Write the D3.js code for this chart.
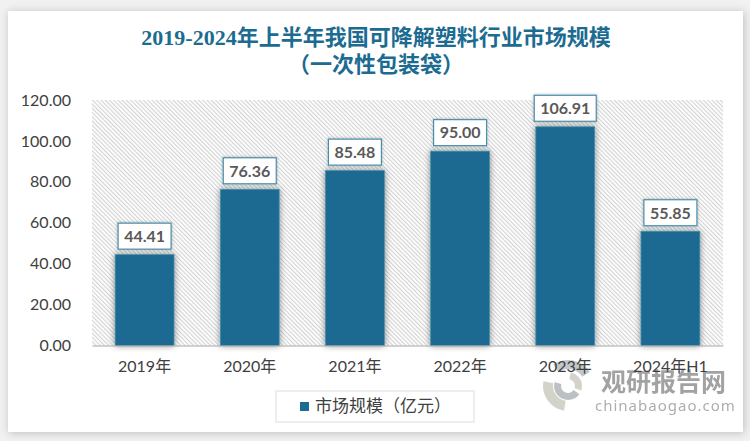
<!DOCTYPE html>
<html>
<head>
<meta charset="utf-8">
<script src="https://cdn.jsdelivr.net/npm/d3@7"></script>
<style>
  html, body { margin: 0; padding: 0; background: #f1f1f1; overflow: hidden; }
  svg { display: block; }
  text { font-family: Lato, "Noto Sans CJK SC", sans-serif; }
</style>
</head>
<body>
<svg id="chart" width="750" height="441"></svg>
<script>
// Chart data
const categories = ['2019年', '2020年', '2021年', '2022年', '2023年', '2024年H1'];
const marketSize = [44.41, 76.36, 85.48, 95.00, 106.91, 55.85];
const yTicks = [0, 20, 40, 60, 80, 100, 120];
const titleLines = ['2019-2024年上半年我国可降解塑料行业市场规模', '（一次性包装袋）'];
const legendLabel = '市场规模（亿元）';

const BLUE = '#1c6b91';
const BORDER = '#4a8fab';
const plot = { left: 92, right: 723, top: 100, bottom: 345.5 };

const svg = d3.select('#chart');
const defs = svg.append('defs');

// Diagonal hatch behind the bars
const hatch = defs.append('pattern')
  .attr('id', 'hatch')
  .attr('width', 3).attr('height', 3)
  .attr('patternUnits', 'userSpaceOnUse')
  .attr('patternTransform', 'rotate(-45)');
hatch.append('rect').attr('width', 3).attr('height', 3).attr('fill', '#fff');
hatch.append('rect').attr('width', 1.2).attr('height', 3).attr('fill', '#d4d4d4');

function shadow(id, dx, dy, blur, opacity) {
  const f = defs.append('filter').attr('id', id)
    .attr('x', '-30%').attr('y', '-30%').attr('width', '160%').attr('height', '160%');
  f.append('feDropShadow')
    .attr('dx', dx).attr('dy', dy).attr('stdDeviation', blur)
    .attr('flood-color', '#000').attr('flood-opacity', opacity);
}
shadow('panelShadow', 1, 1, 4, 0.22);
shadow('barShadow', 0, 0, 3, 0.45);
shadow('labelShadow', 0, 0, 1.5, 0.3);

// White card
svg.append('rect')
  .attr('x', 8).attr('y', 11).attr('width', 735).attr('height', 421)
  .attr('fill', '#fff').attr('filter', 'url(#panelShadow)');

// ─── Title ────────────────────────────────────────────────────────────────
svg.append('g').selectAll('text')
  .data(titleLines)
  .join('text')
    .attr('x', 376)
    .attr('y', (d, i) => 45 + i * 27)
    .attr('text-anchor', 'middle')
    .attr('fill', BLUE)
    .attr('font-size', 22)
    .attr('font-weight', 700)
    .style('font-family', '"Liberation Serif", "Noto Sans CJK SC", serif')
    .text(d => d);

// ─── Scales ───────────────────────────────────────────────────────────────
const x = d3.scaleBand().domain(categories).range([plot.left, plot.right]).paddingInner(0.44).paddingOuter(0.22);
const y = d3.scaleLinear().domain([0, 120]).range([plot.bottom, plot.top]);

svg.append('rect')
  .attr('x', plot.left).attr('y', plot.top)
  .attr('width', plot.right - plot.left).attr('height', plot.bottom - plot.top)
  .attr('fill', 'url(#hatch)');

// ─── Bars ─────────────────────────────────────────────────────────────────
svg.append('g').selectAll('rect')
  .data(marketSize)
  .join('rect')
    .attr('x', (d, i) => x(categories[i]))
    .attr('y', d => y(d))
    .attr('width', x.bandwidth())
    .attr('height', d => y(0) - y(d))
    .attr('fill', BLUE)
    .attr('stroke', BORDER)
    .attr('stroke-width', 0.8)
    .attr('filter', 'url(#barShadow)');

// ─── Watermark (sits under the axis labels) ───────────────────────────────
const mark = svg.append('g').attr('opacity', 0.6);
const arc = d3.arc();
const swirl = [
  { inner: 17, outer: 26, start: -0.6, end: 1.0, fill: '#9aa3a6' },
  { inner: 15, outer: 25, start: 3.3, end: 4.9, fill: '#b9b6a8' },
  { inner: 7, outer: 14, start: 2.2, end: 5.0, fill: '#8f989b' },
  { inner: 7, outer: 14, start: 0.2, end: 1.9, fill: '#b9b6a8' }
];
mark.append('g').attr('transform', 'translate(568,386)')
  .selectAll('path')
  .data(swirl)
  .join('path')
    .attr('d', d => arc({ innerRadius: d.inner, outerRadius: d.outer, startAngle: d.start, endAngle: d.end }))
    .attr('fill', d => d.fill);
mark.append('text')
  .attr('x', 601).attr('y', 391)
  .attr('font-size', 25).attr('font-weight', 700).attr('fill', '#666')
  .text('观研报告网');
mark.append('text')
  .attr('x', 595).attr('y', 411)
  .attr('font-size', 15).attr('letter-spacing', 1).attr('fill', '#777')
  .style('font-family', '"Noto Sans", sans-serif')
  .text('chinabaogao.com');

// ─── Axes ─────────────────────────────────────────────────────────────────
const yAxis = svg.append('g')
  .attr('transform', `translate(${plot.left},0)`)
  .call(d3.axisLeft(y).tickValues(yTicks).tickFormat(d3.format('.2f')).tickSize(0).tickPadding(21));
yAxis.select('.domain').remove();
yAxis.selectAll('text').attr('font-size', 16).attr('fill', '#404040');

const xAxis = svg.append('g')
  .attr('transform', `translate(0,${plot.bottom})`)
  .call(d3.axisBottom(x).tickSize(0).tickPadding(15));
xAxis.select('.domain').attr('stroke', '#a6a6a6').attr('stroke-width', 1.2);
xAxis.selectAll('text').attr('font-size', 16).attr('fill', '#404040');

// ─── Value labels ─────────────────────────────────────────────────────────
const labels = svg.append('g').selectAll('g')
  .data(marketSize)
  .join('g')
    .attr('transform', (d, i) => `translate(${x(categories[i]) + x.bandwidth() / 2},${y(d) - 18.5})`);

labels.append('rect')
  .attr('x', d => d >= 100 ? -31 : -26.5)
  .attr('y', -13)
  .attr('width', d => d >= 100 ? 62 : 53)
  .attr('height', 26)
  .attr('fill', '#fff')
  .attr('stroke', BORDER)
  .attr('stroke-width', 1.2)
  .attr('filter', 'url(#labelShadow)');

labels.append('text')
  .attr('text-anchor', 'middle')
  .attr('dy', '0.36em')
  .attr('font-size', 16)
  .attr('font-weight', 700)
  .attr('fill', '#595959')
  .text(d => d3.format('.2f')(d));

// ─── Legend ───────────────────────────────────────────────────────────────
const legend = svg.append('g').attr('transform', 'translate(276,391)');
legend.append('rect')
  .attr('width', 198).attr('height', 31)
  .attr('fill', '#fff').attr('stroke', '#e3e3e3').attr('stroke-width', 1.2);
legend.append('rect')
  .attr('x', 24).attr('y', 11).attr('width', 9).attr('height', 9).attr('fill', BLUE);
legend.append('text')
  .attr('x', 39).attr('y', 21)
  .attr('font-size', 17).attr('fill', '#404040')
  .text(legendLabel);
</script>
</body>
</html>
